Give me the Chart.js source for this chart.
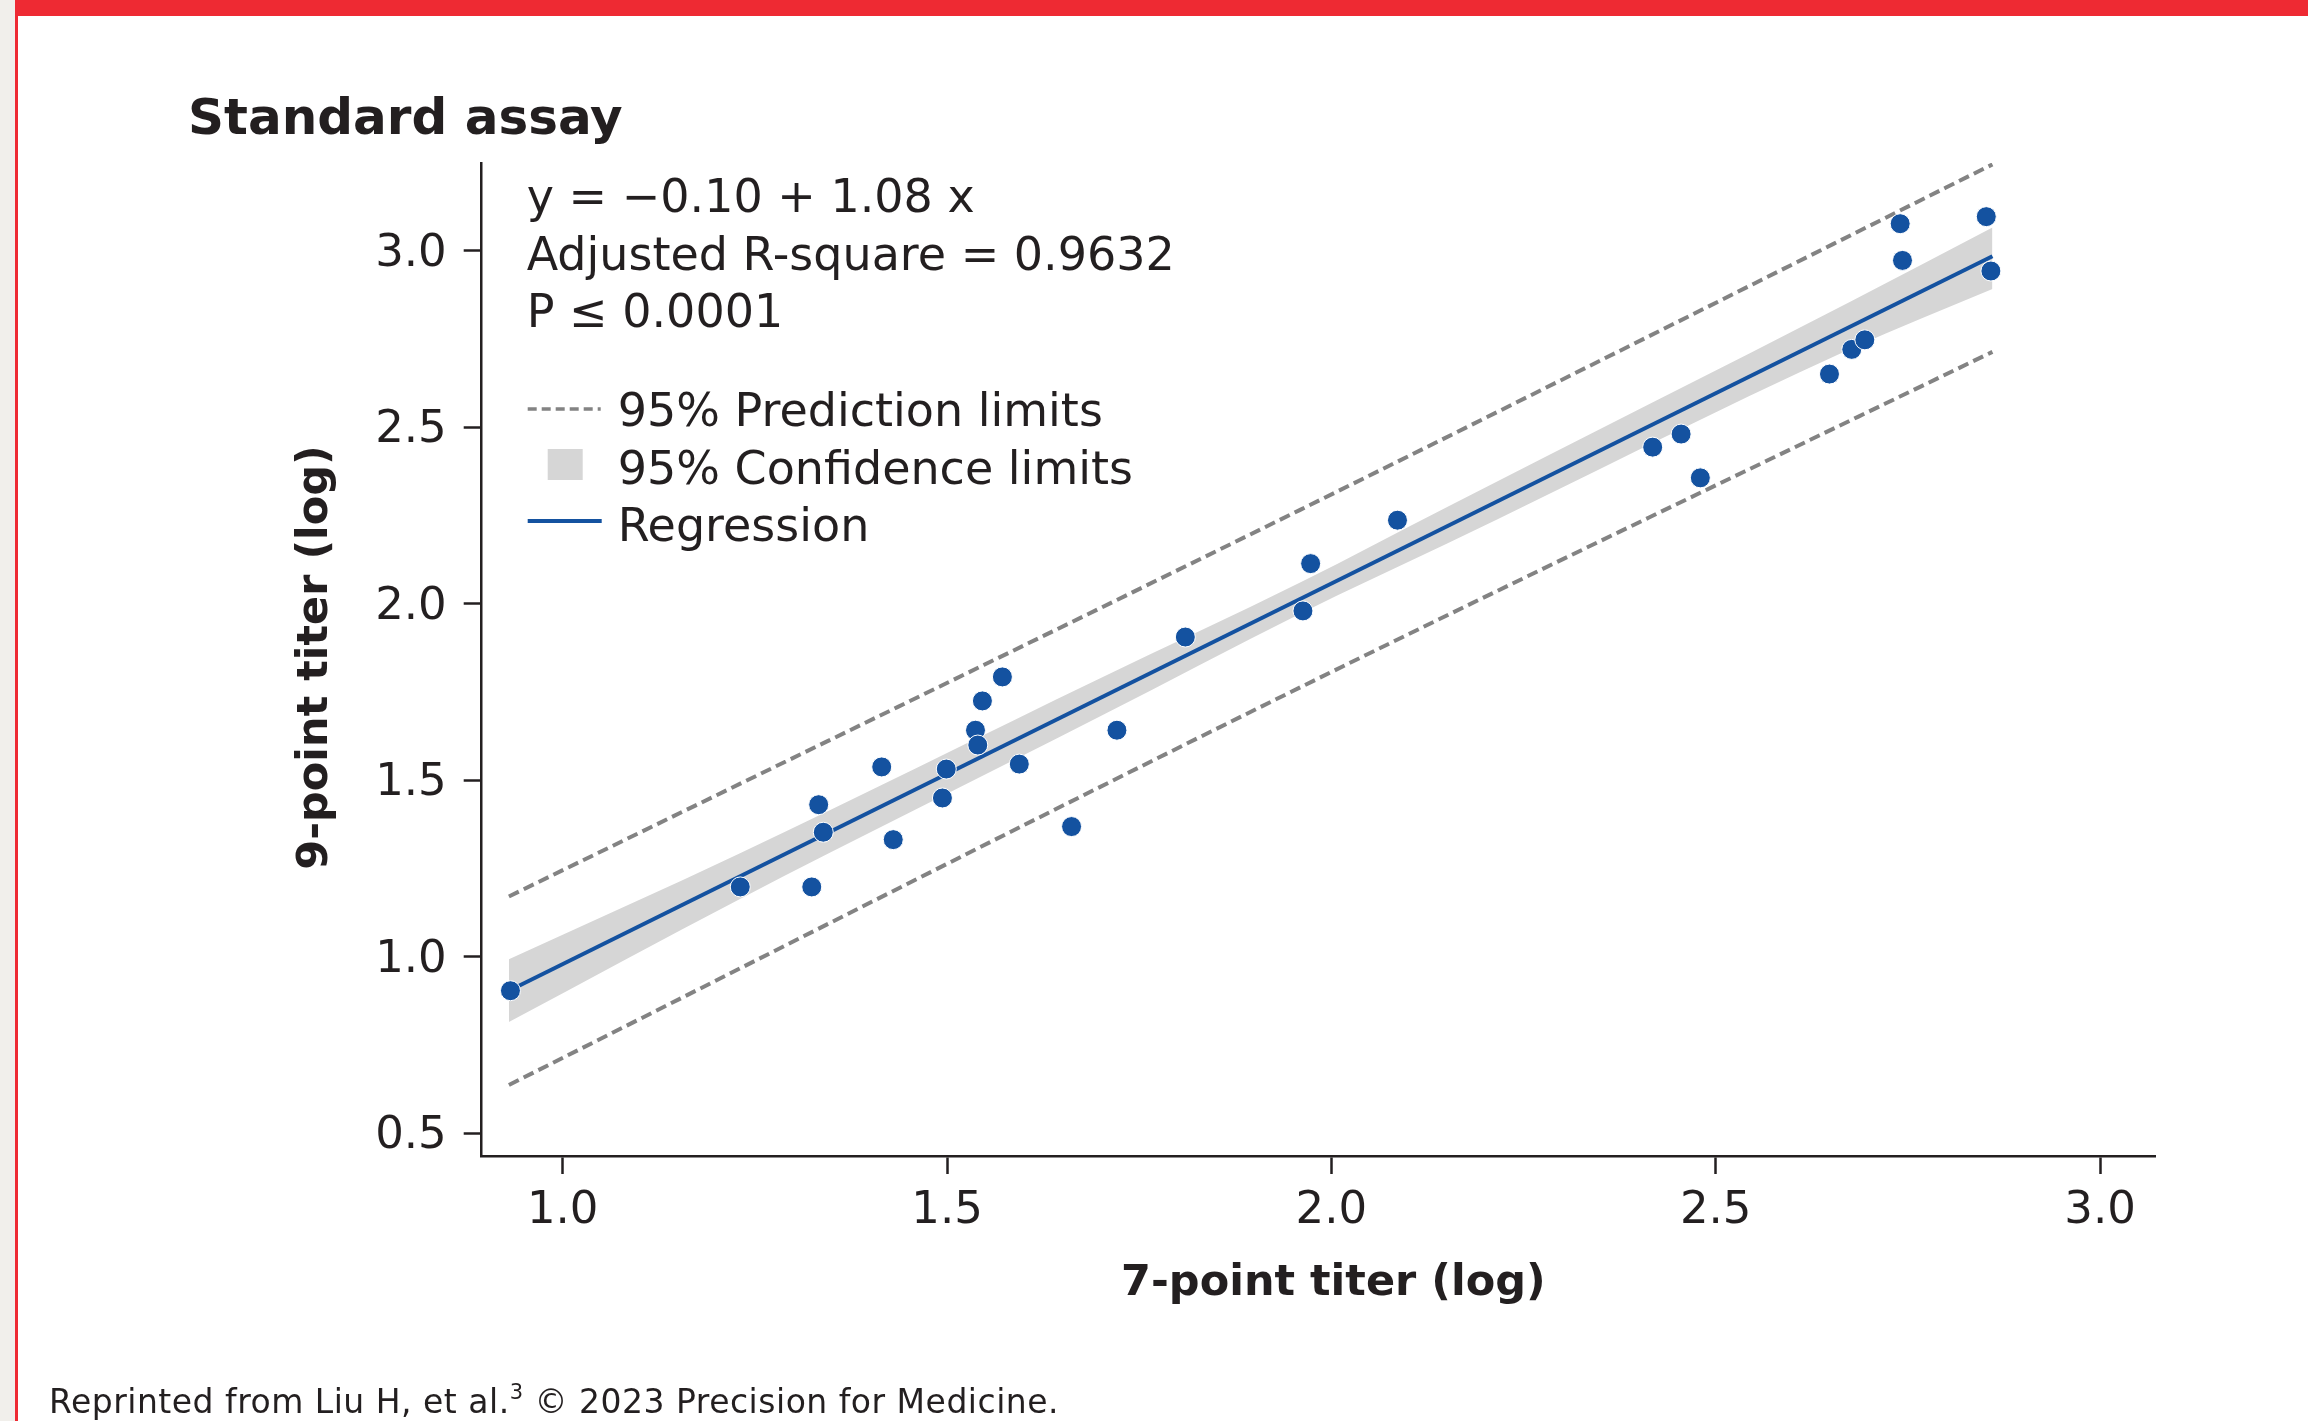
<!DOCTYPE html>
<html>
<head>
<meta charset="utf-8">
<script src="https://cdn.jsdelivr.net/npm/chart.js@4.4.1/dist/chart.umd.min.js"></script>
<style>
  html, body { margin: 0; padding: 0; width: 2308px; height: 1421px; overflow: hidden; background: #f1efeb; }
  #card {
    position: absolute; left: 15px; top: 0; width: 2293px; height: 1421px;
    background: #fff; border-top: 16px solid #ee2a33; border-left: 3px solid #ee2a33;
    box-sizing: border-box;
  }
  #chartTitle {
    position: absolute; left: 188px; top: 92px; margin: 0;
    font: bold 50px/50px "DejaVu Sans", sans-serif; color: #231f20; white-space: nowrap;
  }
  #source {
    position: absolute; left: 49px; top: 1385px; margin: 0;
    font: 33px/33px "DejaVu Sans", sans-serif; letter-spacing: 0.5px; color: #231f20; white-space: nowrap;
  }
  #source sup { font-size: 21px; vertical-align: 14px; line-height: 0; }
  #assayChart { position: absolute; left: 0; top: 0; }
</style>
</head>
<body>
<div id="card"></div>
<h1 id="chartTitle">Standard assay</h1>
<canvas id="assayChart" width="2308" height="1421"></canvas>
<p id="source">Reprinted from Liu H, et al.<sup>3</sup> © 2023 Precision for Medicine.</p>

<script>
// log titers (x = 7-point, y = 9-point)
const titer7 = [0.932, 1.231, 1.324, 1.333, 1.339, 1.415, 1.430, 1.494, 1.499, 1.537,
                1.540, 1.546, 1.572, 1.594, 1.662, 1.721, 1.810, 1.963, 1.973, 2.086,
                2.418, 2.455, 2.480, 2.648, 2.677, 2.694, 2.740, 2.743, 2.852, 2.858];
const titer9 = [0.904, 1.198, 1.198, 1.431, 1.353, 1.538, 1.332, 1.450, 1.532, 1.642,
                1.600, 1.725, 1.793, 1.546, 1.369, 1.642, 1.906, 1.980, 2.114, 2.237,
                2.444, 2.481, 2.357, 2.651, 2.721, 2.748, 3.077, 2.973, 3.097, 2.943];

// regression line ends
const fitX = [0.93, 2.86];
const fitY = [0.904, 2.985];

// 95% prediction limits
const predX = [0.93, 1.96, 2.86];
const predUpper = [1.171, 2.267, 3.245];
const predLower = [0.637, 1.764, 2.714];

// 95% confidence band
const confX = [0.93, 1.23, 1.70, 1.96, 2.15, 2.675, 2.86];
const confUpper = [0.993, 1.293, 1.790, 2.061, 2.274, 2.856, 3.066];
const confLower = [0.815, 1.163, 1.682, 1.973, 2.170, 2.722, 2.892];

const xTicks = [1.0, 1.5, 2.0, 2.5, 3.0];
const yTicks = [0.5, 1.0, 1.5, 2.0, 2.5, 3.0];
const xRange = [0.8946, 3.0715];
const yRange = [0.4357, 3.249];

const statLines = ["y = \u22120.10 + 1.08 x", "Adjusted R-square = 0.9632", "P \u2264 0.0001"];
const legendLabels = ["95% Prediction limits", "95% Confidence limits", "Regression"];

const INK = "#231f20";
const BLUE = "#1452a0";
const GREY = "#838383";
const BAND = "#d6d6d6";
const FONT = '"DejaVu Sans", sans-serif';

const toXY = (xs, ys) => xs.map((x, i) => ({ x: x, y: ys[i] }));

// text inside / around the plot area
const textPlugin = {
  id: "assayText",
  afterDraw(chart) {
    const { ctx, chartArea: a } = chart;
    ctx.save();
    ctx.fillStyle = INK;
    ctx.textAlign = "left";
    ctx.textBaseline = "alphabetic";
    ctx.font = "46px " + FONT;
    statLines.forEach((t, i) => ctx.fillText(t, a.left + 45, a.top + 49 + i * 57.5));

    // legend
    legendLabels.forEach((t, i) => ctx.fillText(t, a.left + 136, a.top + 263 + i * 57.5));
    ctx.strokeStyle = GREY;
    ctx.lineWidth = 3.5;
    ctx.setLineDash([9, 5]);
    ctx.beginPath();
    ctx.moveTo(a.left + 46, a.top + 246);
    ctx.lineTo(a.left + 119, a.top + 246);
    ctx.stroke();
    ctx.setLineDash([]);
    ctx.fillStyle = BAND;
    ctx.fillRect(a.left + 66, a.top + 286, 35, 31);
    ctx.strokeStyle = BLUE;
    ctx.lineWidth = 4;
    ctx.beginPath();
    ctx.moveTo(a.left + 46, a.top + 358);
    ctx.lineTo(a.left + 120, a.top + 358);
    ctx.stroke();

    // axis titles
    ctx.fillStyle = INK;
    ctx.font = "bold 43px " + FONT;
    ctx.textAlign = "center";
    ctx.fillText("7-point titer (log)", (a.left + a.right) / 2 + 15, a.bottom + 139);
    ctx.save();
    ctx.translate(a.left - 155, (a.top + a.bottom) / 2 - 2);
    ctx.rotate(-Math.PI / 2);
    ctx.fillText("9-point titer (log)", 0, 0);
    ctx.restore();
    ctx.restore();
  }
};

const axisLook = {
  border: { display: true, color: INK, width: 2.5 },
  grid: { display: true, drawOnChartArea: false, drawTicks: true, tickLength: 18, tickWidth: 2.5, tickColor: INK },
};

new Chart(document.getElementById("assayChart").getContext("2d"), {
  type: "scatter",
  data: {
    datasets: [
      {
        type: "scatter",
        label: "Titers",
        data: toXY(titer7, titer9),
        backgroundColor: BLUE,
        borderColor: "#ffffff",
        borderWidth: 1,
        pointRadius: 10,
        order: 0,
      },
      {
        type: "line",
        label: "Regression",
        data: toXY(fitX, fitY),
        borderColor: BLUE,
        borderWidth: 4,
        pointRadius: 0,
        fill: false,
        order: 1,
      },
      {
        type: "line",
        label: "Upper prediction limit",
        data: toXY(predX, predUpper),
        borderColor: GREY,
        borderWidth: 4,
        borderDash: [11, 5.5],
        cubicInterpolationMode: "monotone",
        pointRadius: 0,
        fill: false,
        order: 2,
      },
      {
        type: "line",
        label: "Lower prediction limit",
        data: toXY(predX, predLower),
        borderColor: GREY,
        borderWidth: 4,
        borderDash: [11, 5.5],
        cubicInterpolationMode: "monotone",
        pointRadius: 0,
        fill: false,
        order: 3,
      },
      {
        type: "line",
        label: "Upper confidence limit",
        data: toXY(confX, confUpper),
        borderColor: "rgba(0,0,0,0)",
        backgroundColor: BAND,
        cubicInterpolationMode: "monotone",
        pointRadius: 0,
        fill: "+1",
        order: 4,
      },
      {
        type: "line",
        label: "Lower confidence limit",
        data: toXY(confX, confLower),
        borderColor: "rgba(0,0,0,0)",
        cubicInterpolationMode: "monotone",
        pointRadius: 0,
        fill: false,
        order: 5,
      },
    ],
  },
  options: {
    responsive: false,
    animation: false,
    devicePixelRatio: 1,
    layout: { padding: { left: 0, top: 163, right: 153, bottom: 0 } },
    plugins: {
      legend: { display: false },
      tooltip: { enabled: false },
    },
    scales: {
      x: {
        type: "linear",
        min: xRange[0],
        max: xRange[1],
        ...axisLook,
        afterBuildTicks: (scale) => { scale.ticks = xTicks.map((v) => ({ value: v })); },
        afterFit: (scale) => { scale.height = 265; },
        ticks: {
          color: INK,
          padding: 10,
          font: { family: FONT, size: 45 },
          callback: (v) => Number(v).toFixed(1),
        },
      },
      y: {
        type: "linear",
        min: yRange[0],
        max: yRange[1],
        ...axisLook,
        afterBuildTicks: (scale) => { scale.ticks = yTicks.map((v) => ({ value: v })); },
        afterFit: (scale) => { scale.width = 481.7; },
        ticks: {
          color: INK,
          padding: 17,
          labelOffset: 3,
          font: { family: FONT, size: 45 },
          callback: (v) => Number(v).toFixed(1),
        },
      },
    },
  },
  plugins: [textPlugin],
});
</script>
</body>
</html>
